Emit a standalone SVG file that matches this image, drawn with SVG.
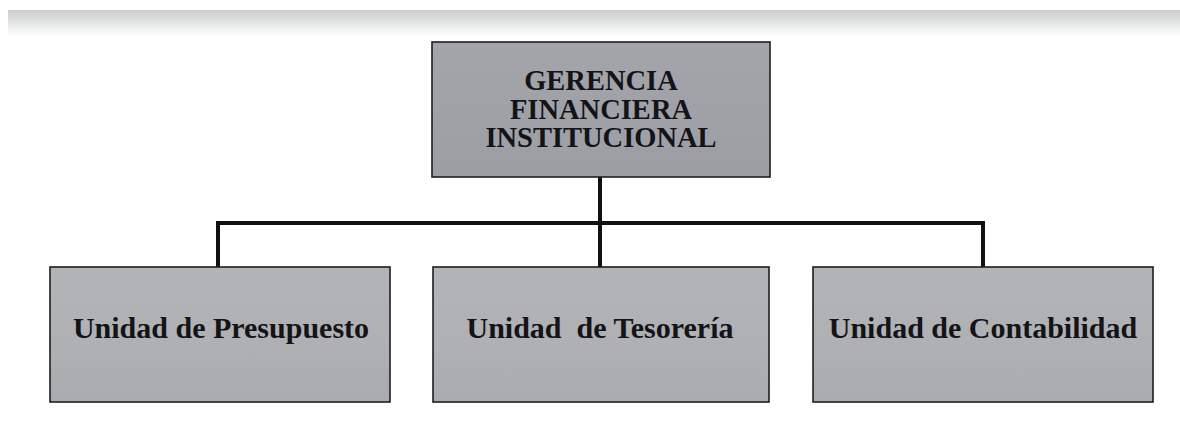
<svg xmlns="http://www.w3.org/2000/svg" width="1180" height="425" viewBox="0 0 1180 425">
<style>
.box{stroke:#1e1e22;stroke-width:1.6}
.lbl{font-family:"Liberation Serif","Times New Roman",serif;font-weight:bold;fill:#141418;text-anchor:middle}
.top{font-size:28.5px}
.sub{font-size:30px}
.conn{stroke:#111;stroke-width:4;fill:none;stroke-linecap:square}
</style>
<defs>
<linearGradient id="gTop" x1="0" y1="0" x2="0" y2="1">
<stop offset="0" stop-color="#a3a5ab"/>
<stop offset="1" stop-color="#9c9ea4"/>
</linearGradient>
<linearGradient id="gSub" x1="0" y1="0" x2="0" y2="1">
<stop offset="0" stop-color="#b2b4b8"/>
<stop offset="0.6" stop-color="#aeb0b4"/>
<stop offset="1" stop-color="#a9abb0"/>
</linearGradient>
<linearGradient id="gBand" x1="0" y1="0" x2="0" y2="1">
<stop offset="0" stop-color="#c9cbcd"/>
<stop offset="1" stop-color="#ffffff"/>
</linearGradient>
</defs>
<rect width="1180" height="425" fill="#ffffff"/>
<rect x="8" y="10" width="1172" height="26" fill="url(#gBand)"/>
<g id="connectors">
<path class="conn" d="M600 178 V267"/>
<path class="conn" d="M218 267 V223 H983 V267"/>
</g>
<g id="gerencia">
<rect class="box" x="432" y="42" width="338" height="135" fill="url(#gTop)"/>
<text class="lbl top" x="601" y="90">GERENCIA</text>
<text class="lbl top" x="601" y="118.5">FINANCIERA</text>
<text class="lbl top" x="601" y="147">INSTITUCIONAL</text>
</g>
<g id="presupuesto">
<rect class="box" x="50" y="267" width="340" height="135" fill="url(#gSub)"/>
<text class="lbl sub" x="221" y="338">Unidad de Presupuesto</text>
</g>
<g id="tesoreria">
<rect class="box" x="433" y="267" width="336" height="135" fill="url(#gSub)"/>
<text class="lbl sub" x="600" y="338" xml:space="preserve">Unidad  de Tesorería</text>
</g>
<g id="contabilidad">
<rect class="box" x="813" y="267" width="340" height="135" fill="url(#gSub)"/>
<text class="lbl sub" x="983" y="338">Unidad de Contabilidad</text>
</g>
</svg>
